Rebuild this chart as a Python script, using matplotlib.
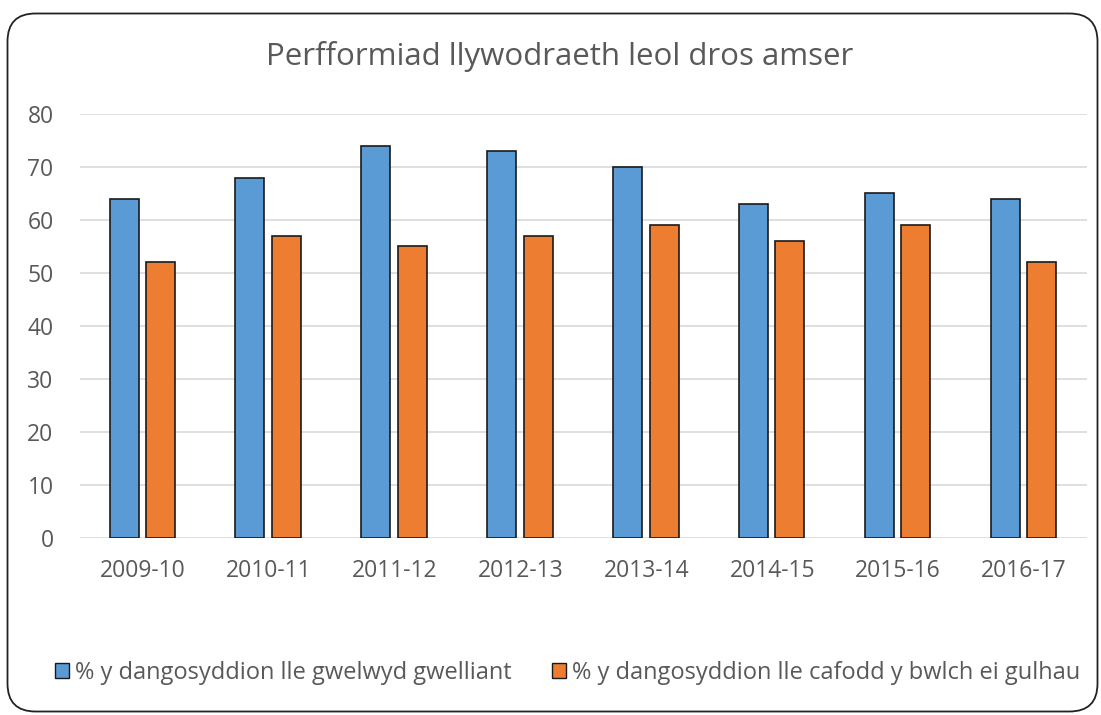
import matplotlib.pyplot as plt
import numpy as np
from matplotlib.patches import FancyBboxPatch, Patch

years = ["2009-10", "2010-11", "2011-12", "2012-13", "2013-14", "2014-15", "2015-16", "2016-17"]
improved = [64, 68, 74, 73, 70, 63, 65, 64]
gap_narrowed = [52, 57, 55, 57, 59, 56, 59, 52]

label_improved = "% y dangosyddion lle gwelwyd gwelliant"
label_gap = "% y dangosyddion lle cafodd y bwlch ei gulhau"

plt.rcParams['font.family'] = ['Open Sans', 'DejaVu Sans']
grey = "#595959"

W, H = 1101, 715
fig = plt.figure(figsize=(W / 100, H / 100), dpi=100)
ax = fig.add_axes([80 / W, 1 - 538 / H, 1007 / W, 424 / H])

# rounded frame round the whole chart (in inches)
frame = FancyBboxPatch((0.075, 0.035), 10.9, 6.98,
                       boxstyle="round,pad=0,rounding_size=0.28",
                       transform=fig.dpi_scale_trans, fill=False,
                       edgecolor="#222222", linewidth=1.3)
fig.patches.append(frame)

x = np.arange(len(years))
w = 0.23
ax.bar(x - 0.15, improved, w, color="#5B9BD5", edgecolor="#1a1a1a", linewidth=1.2, zorder=3)
ax.bar(x + 0.14, gap_narrowed, w, color="#ED7D31", edgecolor="#1a1a1a", linewidth=1.2, zorder=3)

ax.set_xlim(-0.5, len(years) - 0.5)
ax.set_ylim(0, 80)
ax.set_yticks(range(0, 81, 10))
ax.set_xticks(x)
ax.set_xticklabels(years)
ax.grid(axis="y", color="#d9d9d9", linewidth=1.2, zorder=0)
for s in ax.spines.values():
    s.set_visible(False)
ax.tick_params(length=0, labelsize=16.5, labelcolor=grey)
ax.tick_params(axis="y", pad=19)
ax.tick_params(axis="x", pad=15)

fig.text(560 / W, 1 - 56 / H, "Perfformiad llywodraeth leol dros amser",
         ha="center", va="center", fontsize=22.5, color=grey)

handles = [Patch(facecolor="#5B9BD5", edgecolor="#1a1a1a", label=label_improved),
           Patch(facecolor="#ED7D31", edgecolor="#1a1a1a", label=label_gap)]
fig.legend(handles=handles, loc="center left", bbox_to_anchor=(34 / W, 1 - 673 / H),
           ncol=2, frameon=False, fontsize=17, labelcolor=grey,
           handlelength=0.6, handleheight=0.6, handletextpad=0.25, columnspacing=1.7)

fig.savefig("out.png", dpi=100)
